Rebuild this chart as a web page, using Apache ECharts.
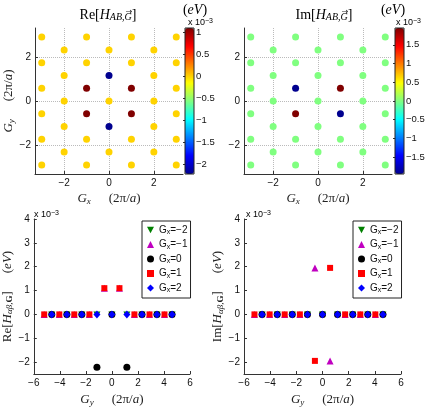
<!DOCTYPE html>
<html>
<head>
<meta charset="utf-8">
<script src="https://cdn.jsdelivr.net/npm/echarts@6/dist/echarts.min.js"></script>
<style>html,body{margin:0;padding:0;background:#fff;}#c{width:436px;height:409px;}</style>
</head>
<body>
<div id="c"></div>
<script>
// ---------- data (values in units of 1e-3 eV) ----------
const topGx = [-3, -2, -1, 0, 1, 2, 3];
const topGyOdd = [-2.89, -1.73, -0.58, 0.58, 1.73, 2.89];   // rows for Gx = ±1, ±3
const topGyEven = [-2.31, -1.15, 0, 1.15, 2.31];            // rows for Gx = 0, ±2
const reTop = [
  [0, 0, 0, 0, 0, 0],
  [0, 0, 0, 0, 0],
  [0, 0, 1.1, 1.1, 0, 0],
  [0, -2.22, 0, -2.22, 0],
  [0, 0, 1.1, 1.1, 0, 0],
  [0, 0, 0, 0, 0],
  [0, 0, 0, 0, 0, 0]
];
const imTop = [
  [0, 0, 0, 0, 0, 0],
  [0, 0, 0, 0, 0],
  [0, 0, 1.95, -1.95, 0, 0],
  [0, 0, 0, 0, 0],
  [0, 0, -1.95, 1.95, 0, 0],
  [0, 0, 0, 0, 0],
  [0, 0, 0, 0, 0, 0]
];
const reRange = [-2.22, 1.1];
const imRange = [-1.95, 1.95];
const reCbarTicks = [-2, -1.5, -1, -0.5, 0, 0.5, 1];
const imCbarTicks = [-1.5, -1, -0.5, 0, 0.5, 1, 1.5];
const topTicks = [-2, 0, 2];

const seriesNames = ['Gx=-2', 'Gx=-1', 'Gx=0', 'Gx=1', 'Gx=2'];
const bottomGyOdd = [-5.2, -4.04, -2.89, -1.73, -0.58, 0.58, 1.73, 2.89, 4.04];   // Gx = ±1
const bottomGyEven = [-4.62, -3.46, -2.31, -1.15, 0, 1.15, 2.31, 3.46, 4.62];     // Gx = 0, ±2
const reGxM2 = [0, 0, 0, 0, 0, 0, 0, 0, 0];
const reGxM1 = [0, 0, 0, 0, 1.1, 1.1, 0, 0, 0];
const reGx0  = [0, 0, 0, -2.22, 0, -2.22, 0, 0, 0];
const reGx1  = [0, 0, 0, 0, 1.1, 1.1, 0, 0, 0];
const reGx2  = [0, 0, 0, 0, 0, 0, 0, 0, 0];
const imGxM2 = [0, 0, 0, 0, 0, 0, 0, 0, 0];
const imGxM1 = [0, 0, 0, 0, 1.95, -1.95, 0, 0, 0];
const imGx0  = [0, 0, 0, 0, 0, 0, 0, 0, 0];
const imGx1  = [0, 0, 0, 0, -1.95, 1.95, 0, 0, 0];
const imGx2  = [0, 0, 0, 0, 0, 0, 0, 0, 0];
const bottomYTicks = [-2, -1, 0, 1, 2, 3, 4];

// ---------- styles ----------
const jet = ['#00008f', '#0000ff', '#0080ff', '#00ffff', '#80ff80', '#ffff00', '#ff8000', '#ff0000', '#800000'];
const SANS = 'Liberation Sans';
const SERIF = 'Liberation Serif';
const axisColor = '#333';
const minus = v => String(v).replace('-', '\u2212');

const mathRich = {
  r: {fontFamily: SERIF, fontSize: 13, color: '#222', lineHeight: 14},
  i: {fontFamily: SERIF, fontStyle: 'italic', fontSize: 13, color: '#222', lineHeight: 14},
  p: {fontFamily: SERIF, fontSize: 13, color: '#222', lineHeight: 14, padding: [0, 0, 0, 18]},
  b: {fontFamily: SERIF, fontWeight: 'bold', fontSize: 9, color: '#222', lineHeight: 6, verticalAlign: 'bottom'},
  s: {fontFamily: SERIF, fontStyle: 'italic', fontSize: 9, color: '#222', lineHeight: 6, verticalAlign: 'bottom'}
};
const titleRich = {
  r: {fontFamily: SERIF, fontSize: 14, color: '#222', lineHeight: 15},
  i: {fontFamily: SERIF, fontStyle: 'italic', fontSize: 14, color: '#222', lineHeight: 15},
  s: {fontFamily: SERIF, fontStyle: 'italic', fontSize: 10, color: '#222', lineHeight: 10, verticalAlign: 'bottom'}
};
const expRich = {
  t: {fontFamily: SANS, fontSize: 9, color: '#222', lineHeight: 10},
  u: {fontFamily: SANS, fontSize: 7, color: '#222', lineHeight: 4, verticalAlign: 'top'}
};
const legendRich = {
  a: {fontFamily: SANS, fontSize: 10, color: '#111', lineHeight: 12},
  s: {fontFamily: SANS, fontSize: 7, color: '#111', lineHeight: 4, verticalAlign: 'bottom'}
};

function topXAxis(gi, withName) {
  return {
    type: 'value', gridIndex: gi, min: -3.3, max: 3.3,
    axisLine: {show: true, onZero: false, lineStyle: {color: axisColor}},
    axisTick: {show: true, inside: true, length: 3, customValues: topTicks, lineStyle: {color: axisColor}},
    axisLabel: {customValues: topTicks, formatter: minus, fontSize: 10, fontFamily: SANS, color: '#111', margin: 4},
    splitLine: {show: true, lineStyle: {type: 'dotted', color: '#bbb'}},
    name: withName ? '{i|G}{s|x}{p|(2π/}{i|a}{r|)}' : '',
    nameLocation: 'middle', nameGap: 18, nameTextStyle: {rich: mathRich}
  };
}
function topYAxis(gi, withName) {
  return {
    type: 'value', gridIndex: gi, min: -3.3, max: 3.3,
    axisLine: {show: true, onZero: false, lineStyle: {color: axisColor}},
    axisTick: {show: true, inside: true, length: 3, customValues: topTicks, lineStyle: {color: axisColor}},
    axisLabel: {customValues: topTicks, formatter: minus, fontSize: 10, fontFamily: SANS, color: '#111', margin: 4},
    splitLine: {show: true, lineStyle: {type: 'dotted', color: '#bbb'}},
    name: withName ? '{i|G}{s|y}{p|(2π/}{i|a}{r|)}' : '',
    nameLocation: 'middle', nameRotate: 90, nameGap: 17, nameTextStyle: {rich: mathRich}
  };
}
function cbarX(gi) {
  return {type: 'value', gridIndex: gi, show: false, min: 0, max: 1};
}
function cbarY(gi, range, ticks) {
  return {
    type: 'value', gridIndex: gi, min: range[0], max: range[1], position: 'right',
    axisLine: {show: false},
    axisTick: {show: true, inside: true, length: 2, customValues: ticks, lineStyle: {color: axisColor}},
    axisLabel: {customValues: ticks, formatter: minus, fontSize: 9.5, fontFamily: SANS, color: '#111', margin: 2},
    splitLine: {show: false}
  };
}
function botXAxis(gi) {
  return {
    type: 'value', gridIndex: gi, min: -6, max: 6, interval: 2,
    axisLine: {show: true, onZero: false, lineStyle: {color: axisColor}},
    axisTick: {show: true, inside: true, length: 3, lineStyle: {color: axisColor}},
    axisLabel: {formatter: minus, fontSize: 10, fontFamily: SANS, color: '#111', margin: 4},
    splitLine: {show: false},
    name: '{i|G}{s|y}{p|(2π/}{i|a}{r|)}',
    nameLocation: 'middle', nameGap: 19, nameTextStyle: {rich: mathRich}
  };
}
function botYAxis(gi, prefix) {
  return {
    type: 'value', gridIndex: gi, min: -2.5, max: 4,
    axisLine: {show: true, onZero: false, lineStyle: {color: axisColor}},
    axisTick: {show: true, inside: true, length: 3, customValues: bottomYTicks, lineStyle: {color: axisColor}},
    axisLabel: {customValues: bottomYTicks, formatter: minus, fontSize: 10, fontFamily: SANS, color: '#111', margin: 4},
    splitLine: {show: false},
    name: '{r|' + prefix + '[}{i|H}{s|αβ,}{b|G}{r|]}{p|(}{i|eV}{r|)}',
    nameLocation: 'middle', nameRotate: 90, nameGap: 15, nameTextStyle: {rich: mathRich}
  };
}

function topData(values) {
  const out = [];
  topGx.forEach((gx, c) => {
    const rows = (Math.abs(gx) % 2 === 1) ? topGyOdd : topGyEven;
    rows.forEach((gy, r) => out.push([gx, gy, values[c][r]]));
  });
  return out;
}

const markers = ['path://M0,0L10,0L5,9Z', 'triangle', 'circle', 'rect', 'diamond'];
const markerSizes = [[7, 6], [7, 7], [7, 7], [6, 6], [7, 8]];
const markerColors = ['#008000', '#c000c0', '#000000', '#ff0000', '#0000ff'];
const gyForSeries = [bottomGyEven, bottomGyOdd, bottomGyEven, bottomGyOdd, bottomGyEven];
const reSeries = [reGxM2, reGxM1, reGx0, reGx1, reGx2];
const imSeries = [imGxM2, imGxM1, imGx0, imGx1, imGx2];

function bottomSeries(gi, valueSets) {
  return seriesNames.map((name, k) => ({
    type: 'scatter', name: name, xAxisIndex: gi, yAxisIndex: gi,
    symbol: markers[k], symbolSize: markerSizes[k],
    itemStyle: {color: markerColors[k], opacity: 1},
    data: gyForSeries[k].map((gy, j) => [gy, valueSets[k][j]]),
    z: 2 + k, silent: true
  }));
}

function legendFor(left) {
  return {
    data: seriesNames, orient: 'vertical', left: left, top: 221,
    itemWidth: 7, itemHeight: 7, itemGap: 3.5, padding: [4, 3, 4, 5],
    borderColor: '#222', borderWidth: 1, backgroundColor: '#fff',
    selectedMode: false,
    formatter: n => '{a|G}{s|x}{a|=' + minus(n.slice(3)) + '}',
    textStyle: {rich: legendRich}
  };
}

function text(x, y, str, rich, align) {
  return {type: 'text', x: x, y: y, style: {text: str, rich: rich, align: align || 'center', verticalAlign: 'middle'}};
}

// measure text to place the vector arrow over the subscript G in the titles
const mctx = document.createElement('canvas').getContext('2d');
function tw(font, s) { mctx.font = font; return mctx.measureText(s).width; }
function titleParts(cx, cy, prefix) {
  const w1 = tw('14px ' + SERIF, prefix + '[');
  const w2 = tw('italic 14px ' + SERIF, 'H');
  const w3 = tw('italic 10px ' + SERIF, 'AB,');
  const w4 = tw('italic 10px ' + SERIF, 'G');
  const w5 = tw('14px ' + SERIF, ']');
  const total = w1 + w2 + w3 + w4 + w5;
  const x0 = cx - total / 2;
  return [
    text(x0, cy, '{r|' + prefix + '[}{i|H}{s|AB,G}{r|]}', titleRich, 'left'),
    {type: 'text', x: x0 + w1 + w2 + w3 + w4 / 2 + 1, y: cy - 3,
     style: {text: '\u2192', font: '8px DejaVu Sans', fill: '#222', align: 'center', verticalAlign: 'middle'}}
  ];
}

const option = {
  animation: false,
  backgroundColor: '#fff',
  grid: [
    {left: 35, top: 28, width: 148, height: 146},
    {left: 185, top: 28, width: 9, height: 146, show: true, borderColor: '#222', borderWidth: 1, z: 5},
    {left: 244, top: 28, width: 148, height: 146},
    {left: 395, top: 28, width: 9, height: 146, show: true, borderColor: '#222', borderWidth: 1, z: 5},
    {left: 33, top: 219, width: 157, height: 155},
    {left: 244, top: 219, width: 157, height: 155}
  ],
  xAxis: [topXAxis(0, true), cbarX(1), topXAxis(2, true), cbarX(3), botXAxis(4), botXAxis(5)],
  yAxis: [topYAxis(0, true), cbarY(1, reRange, reCbarTicks), topYAxis(2, false), cbarY(3, imRange, imCbarTicks),
          botYAxis(4, 'Re'), botYAxis(5, 'Im')],
  visualMap: [
    {type: 'continuous', seriesIndex: 0, dimension: 2, min: reRange[0], max: reRange[1],
     inRange: {color: jet}, left: 185, top: 28, itemWidth: 9, itemHeight: 146, padding: 0,
     calculable: false, hoverLink: false},
    {type: 'continuous', seriesIndex: 1, dimension: 2, min: imRange[0], max: imRange[1],
     inRange: {color: jet}, left: 395, top: 28, itemWidth: 9, itemHeight: 146, padding: 0,
     calculable: false, hoverLink: false}
  ],
  legend: [legendFor(142), legendFor(353)],
  series: [
    {type: 'scatter', xAxisIndex: 0, yAxisIndex: 0, symbolSize: 7, itemStyle: {opacity: 1}, data: topData(reTop), silent: true},
    {type: 'scatter', xAxisIndex: 2, yAxisIndex: 2, symbolSize: 7, itemStyle: {opacity: 1}, data: topData(imTop), silent: true}
  ].concat(bottomSeries(4, reSeries)).concat(bottomSeries(5, imSeries)),
  graphic: [].concat(
    titleParts(108, 15, 'Re'),
    titleParts(324, 15, 'Im'),
    [
      text(195, 10, '{r|(}{i|eV}{r|)}', titleRich),
      text(393, 10, '{r|(}{i|eV}{r|)}', titleRich),
      text(188, 23, '{t|x 10}{u|\u22123}', expRich, 'left'),
      text(396, 23, '{t|x 10}{u|\u22123}', expRich, 'left'),
      text(34, 215, '{t|x 10}{u|\u22123}', expRich, 'left'),
      text(246, 215, '{t|x 10}{u|\u22123}', expRich, 'left')
    ]
  )
};

const chart = echarts.init(document.getElementById('c'), null, {renderer: 'canvas'});
chart.setOption(option);
</script>
</body>
</html>
